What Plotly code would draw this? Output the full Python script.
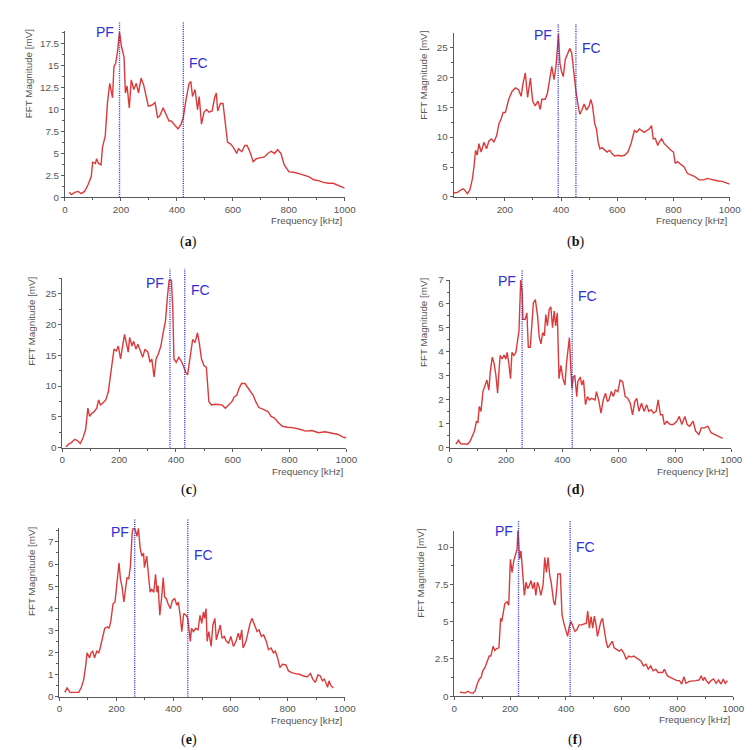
import plotly.graph_objects as go

# ---------------- data ----------------
freq_a = [15, 23, 35, 47, 58, 70, 82, 88, 94, 99, 109, 113, 120, 129, 134, 144, 152, 160, 170, 175, 181, 187, 195, 202, 211, 216, 222, 230, 237, 246, 255, 263, 272, 281, 289, 298, 310, 322, 331, 339, 351, 363, 372, 380, 392, 404, 415, 423, 433, 444, 450, 456, 465, 474, 480, 488, 497, 506, 515, 526, 535, 541, 546, 556, 565, 573, 581, 591, 602, 614, 620, 632, 643, 651, 661, 673, 684, 696, 713, 725, 737, 749, 760, 772, 784, 801, 819, 836, 854, 871, 889, 906, 924, 942, 959, 977, 994, 1000]
mag_a = [0.56, 0.3, 0.56, 0.67, 0.41, 0.67, 1.4, 2.0, 2.36, 4.0, 3.86, 4.4, 3.86, 3.7, 5.7, 7.0, 10.8, 13.0, 11.35, 14.9, 15.3, 16.4, 18.85, 17.2, 16.0, 11.9, 12.7, 10.2, 13.4, 12.3, 13.0, 11.9, 13.6, 12.85, 11.7, 10.4, 10.5, 10.8, 9.1, 9.3, 10.2, 9.3, 8.7, 8.7, 8.2, 7.8, 8.35, 9.1, 11.2, 13.0, 13.2, 11.5, 12.3, 10.0, 11.5, 8.35, 9.7, 10.0, 9.7, 9.85, 11.35, 11.9, 9.85, 10.7, 10.7, 8.55, 6.3, 6.1, 5.7, 5.0, 5.55, 5.2, 5.9, 5.9, 5.2, 4.05, 4.4, 4.5, 4.6, 5.0, 5.25, 5.0, 5.45, 5.0, 3.7, 2.9, 2.85, 2.7, 2.55, 2.36, 2.0, 1.9, 1.7, 1.6, 1.6, 1.35, 1.1, 1.05]

freq_b = [18, 32, 44, 53, 61, 67, 76, 85, 91, 96, 102, 108, 116, 126, 135, 144, 153, 161, 171, 179, 187, 194, 202, 214, 226, 238, 249, 258, 265, 273, 281, 291, 299, 308, 318, 326, 332, 344, 352, 361, 367, 375, 382, 391, 396, 402, 408, 415, 422, 431, 438, 446, 453, 461, 467, 475, 482, 491, 500, 506, 512, 520, 526, 532, 538, 547, 555, 564, 573, 582, 591, 602, 614, 626, 638, 649, 661, 669, 679, 688, 696, 705, 714, 722, 728, 735, 744, 749, 758, 767, 779, 791, 800, 806, 814, 826, 838, 849, 861, 876, 891, 908, 920, 938, 955, 973, 985, 996, 1000]
mag_b = [0.66, 0.77, 1.2, 1.37, 0.93, 0.55, 1.2, 3.1, 5.3, 7.8, 7.0, 8.9, 7.5, 9.15, 8.05, 9.4, 9.7, 9.15, 10.25, 12.2, 13.0, 14.1, 14.1, 16.3, 17.65, 18.2, 17.9, 16.8, 19.0, 20.7, 16.6, 19.85, 16.0, 15.2, 16.0, 14.6, 16.3, 16.3, 17.4, 19.85, 21.8, 19.6, 21.8, 27.2, 22.3, 20.9, 20.1, 22.9, 23.7, 24.8, 24.0, 20.4, 17.65, 15.2, 13.8, 14.6, 15.5, 14.5, 15.2, 16.3, 15.2, 12.2, 11.35, 9.15, 8.05, 8.2, 7.8, 7.5, 7.8, 7.2, 6.85, 6.96, 6.85, 6.96, 7.5, 8.9, 11.1, 10.8, 11.35, 11.1, 10.8, 11.1, 11.35, 11.9, 9.7, 9.8, 8.6, 9.15, 9.7, 8.9, 8.3, 7.8, 7.5, 5.6, 5.9, 5.4, 5.0, 3.95, 3.7, 3.4, 2.85, 2.85, 3.1, 2.85, 2.7, 2.6, 2.45, 2.3, 2.14]

freq_c = [13, 21, 32, 44, 55, 63, 73, 82, 90, 96, 105, 113, 121, 128, 134, 142, 153, 162, 168, 174, 182, 190, 197, 205, 211, 219, 225, 232, 237, 245, 251, 259, 266, 274, 283, 291, 301, 309, 315, 323, 330, 338, 347, 355, 363, 370, 376, 384, 389, 393, 401, 410, 418, 426, 434, 441, 449, 459, 467, 476, 482, 490, 499, 507, 516, 525, 539, 551, 562, 574, 585, 597, 606, 614, 622, 631, 643, 654, 664, 672, 681, 692, 706, 724, 735, 747, 762, 775, 793, 816, 839, 856, 879, 902, 925, 948, 971, 988, 1000]
mag_c = [0.1, 0.53, 0.8, 1.33, 1.07, 0.64, 1.6, 2.93, 6.4, 5.06, 5.6, 5.86, 6.4, 7.73, 6.93, 7.2, 7.73, 9.06, 11.2, 13.6, 16.0, 15.7, 16.5, 14.4, 16.5, 18.4, 17.05, 15.5, 17.9, 16.5, 17.3, 16.0, 16.8, 15.7, 14.66, 16.0, 15.5, 13.86, 14.4, 11.46, 14.4, 15.2, 16.5, 18.66, 20.5, 24.5, 27.2, 27.2, 22.4, 14.4, 13.86, 14.66, 14.1, 13.3, 12.26, 11.8, 14.4, 17.6, 17.05, 18.66, 17.05, 14.4, 13.3, 13.06, 7.46, 6.93, 7.04, 6.93, 6.93, 6.4, 6.93, 7.46, 8.26, 8.5, 9.6, 10.4, 10.4, 9.6, 9.06, 8.5, 7.46, 6.5, 6.24, 5.86, 5.06, 4.8, 4.0, 3.46, 3.3, 3.2, 2.93, 2.67, 2.77, 2.4, 2.56, 2.4, 2.13, 1.7, 1.6]

freq_d = [22, 31, 39, 51, 63, 72, 80, 88, 95, 100, 105, 111, 118, 127, 132, 139, 144, 151, 158, 164, 170, 174, 179, 186, 193, 199, 204, 210, 216, 221, 228, 235, 239, 246, 252, 257, 260, 268, 274, 279, 286, 291, 297, 304, 312, 318, 324, 330, 336, 341, 347, 353, 359, 365, 371, 376, 382, 388, 395, 402, 409, 415, 420, 425, 430, 434, 439, 444, 451, 455, 463, 469, 475, 482, 489, 496, 504, 516, 521, 530, 537, 545, 553, 560, 565, 574, 581, 588, 597, 605, 614, 623, 632, 641, 649, 657, 664, 672, 681, 690, 699, 707, 715, 724, 733, 740, 748, 756, 762, 771, 783, 794, 806, 815, 824, 835, 843, 852, 864, 873, 885, 893, 905, 916, 928, 940, 951, 963, 969]
mag_d = [0.14, 0.3, 0.16, 0.14, 0.14, 0.25, 0.48, 0.69, 1.1, 1.03, 1.72, 1.51, 2.34, 2.61, 2.82, 2.4, 3.16, 3.78, 3.5, 3.02, 2.27, 3.02, 3.85, 3.7, 3.87, 3.7, 3.98, 3.5, 2.88, 3.98, 3.85, 3.98, 4.26, 4.88, 7.0, 6.52, 5.36, 5.36, 5.63, 4.19, 4.19, 5.08, 6.04, 6.18, 5.49, 4.6, 4.33, 4.8, 4.67, 5.56, 5.08, 5.77, 5.88, 5.01, 5.7, 5.08, 5.63, 2.88, 3.43, 2.88, 2.61, 3.57, 3.98, 4.6, 3.3, 2.47, 2.95, 3.02, 2.13, 2.75, 2.95, 2.61, 2.82, 1.79, 2.13, 1.99, 2.06, 1.99, 2.34, 1.92, 1.44, 1.99, 2.27, 1.92, 1.99, 2.34, 2.13, 2.4, 2.34, 2.82, 2.75, 2.13, 2.06, 1.85, 1.37, 1.92, 2.06, 1.51, 1.85, 1.51, 1.79, 1.51, 1.58, 1.44, 1.51, 1.99, 1.37, 1.37, 0.96, 1.1, 0.96, 0.96, 1.1, 1.3, 0.96, 1.3, 0.96, 0.89, 1.1, 0.69, 0.55, 0.82, 0.82, 0.89, 0.62, 0.55, 0.48, 0.41, 0.38]

freq_e = [19, 27, 37, 48, 60, 68, 77, 85, 92, 97, 106, 111, 117, 123, 131, 138, 143, 151, 159, 169, 174, 180, 188, 195, 201, 209, 214, 220, 226, 232, 237, 243, 249, 255, 260, 266, 272, 277, 283, 289, 295, 298, 306, 312, 318, 323, 331, 337, 342, 346, 352, 358, 364, 369, 375, 381, 389, 396, 404, 412, 417, 424, 429, 436, 444, 450, 455, 459, 463, 470, 478, 486, 493, 499, 505, 509, 514, 518, 524, 532, 538, 545, 550, 557, 564, 570, 578, 585, 593, 601, 610, 619, 627, 633, 639, 644, 654, 662, 667, 675, 685, 693, 700, 708, 716, 725, 733, 742, 750, 757, 765, 773, 782, 794, 803, 814, 828, 842, 854, 868, 880, 888, 897, 906, 914, 922, 929, 935, 940, 945, 952, 960]
mag_e = [0.19, 0.39, 0.19, 0.19, 0.19, 0.19, 0.42, 0.74, 1.38, 1.98, 1.75, 1.98, 2.05, 1.75, 2.05, 1.98, 2.2, 2.64, 3.09, 3.16, 3.09, 3.39, 4.2, 4.28, 5.02, 6.06, 5.32, 4.95, 4.28, 4.95, 5.39, 5.32, 5.91, 7.4, 7.7, 7.55, 7.25, 7.62, 6.73, 6.36, 6.5, 5.84, 6.36, 5.54, 4.72, 4.87, 4.72, 5.54, 4.72, 5.02, 3.68, 4.43, 5.39, 4.5, 4.43, 4.2, 3.98, 4.35, 4.43, 4.13, 4.28, 3.61, 2.94, 3.76, 3.68, 3.54, 3.09, 2.5, 3.09, 2.94, 3.09, 3.02, 3.68, 3.31, 3.83, 3.54, 3.98, 2.5, 2.94, 2.27, 3.24, 3.54, 2.57, 2.94, 3.24, 2.64, 2.72, 2.5, 2.42, 2.72, 2.27, 2.5, 2.87, 2.57, 3.02, 2.2, 2.5, 2.94, 3.24, 3.54, 3.24, 2.94, 3.02, 2.72, 2.79, 2.5, 2.12, 2.2, 1.98, 2.05, 1.75, 1.31, 1.46, 1.43, 1.16, 1.08, 1.04, 1.01, 0.94, 0.89, 1.04, 0.79, 0.64, 0.98, 0.94, 0.71, 0.79, 0.56, 0.42, 0.71, 0.49, 0.39]

freq_f = [20, 32, 40, 49, 58, 67, 75, 82, 90, 96, 102, 110, 119, 125, 131, 139, 145, 152, 160, 166, 170, 175, 181, 189, 195, 201, 207, 213, 219, 225, 228, 234, 239, 244, 251, 257, 263, 269, 275, 281, 287, 292, 298, 304, 310, 318, 324, 330, 336, 342, 347, 356, 361, 367, 371, 380, 386, 394, 400, 406, 412, 418, 423, 432, 439, 447, 456, 464, 473, 478, 484, 490, 496, 502, 508, 513, 519, 525, 531, 538, 544, 550, 558, 566, 573, 581, 591, 599, 607, 616, 625, 634, 643, 651, 660, 669, 678, 687, 695, 704, 712, 722, 730, 739, 747, 753, 763, 774, 786, 798, 807, 815, 823, 830, 842, 854, 865, 877, 885, 891, 897, 903, 912, 920, 929, 938, 947, 956, 964, 971, 979]
mag_f = [0.26, 0.26, 0.22, 0.33, 0.22, 0.2, 0.37, 0.81, 1.15, 1.26, 1.7, 1.92, 2.36, 2.69, 2.69, 3.35, 3.06, 3.19, 3.24, 5.22, 5.0, 5.55, 6.21, 6.32, 6.1, 9.18, 8.3, 9.07, 9.4, 9.85, 11.17, 9.18, 9.74, 8.52, 6.76, 7.64, 7.2, 7.42, 7.75, 7.2, 7.64, 6.76, 7.64, 7.31, 6.76, 7.42, 9.3, 8.3, 9.3, 8.08, 7.64, 6.32, 6.1, 7.2, 8.19, 8.19, 5.44, 4.78, 4.34, 4.01, 4.67, 5.0, 4.78, 4.34, 4.45, 4.78, 4.78, 4.82, 4.89, 5.7, 4.56, 5.33, 4.56, 5.37, 4.78, 4.01, 4.56, 5.0, 5.22, 4.34, 3.68, 3.24, 3.46, 3.68, 3.24, 3.13, 3.02, 3.13, 2.91, 2.47, 2.69, 2.62, 2.69, 2.58, 2.47, 2.36, 2.03, 2.14, 1.81, 2.03, 1.7, 1.81, 1.59, 1.59, 1.59, 1.81, 1.37, 1.26, 1.15, 1.04, 1.04, 0.81, 1.3, 0.86, 0.99, 1.04, 1.04, 1.08, 1.37, 1.04, 1.26, 1.04, 0.86, 1.04, 1.15, 0.86, 1.08, 0.81, 1.15, 0.86, 1.04]

pf_khz = [195, 390, 379, 257, 264, 230]
fc_khz = [423, 453, 431, 435, 450, 415]
panel_labels = ["a", "b", "c", "d", "e", "f"]
x_title = "Frequency [kHz]"
y_title = "FFT Magnitude [mV]"
marker_names = ["PF", "FC"]

freqs = [freq_a, freq_b, freq_c, freq_d, freq_e, freq_f]
mags = [mag_a, mag_b, mag_c, mag_d, mag_e, mag_f]

# ---------------- layout geometry (pixels) ----------------
W, H = 755, 750
panels = [
    dict(xpx=(55, 340), ypx=(186, 17), xr=(0, 1000), yr=(0, 19), dt=2.5, ytshift=-37, pfy=18.85, fcy=15.3),
    dict(xpx=(451, 732.3), ypx=(185.7, 19.7), xr=(18, 1000), yr=(0, 27.3), dt=5, ytshift=-31, pfy=27.0, fcy=24.8),
    dict(xpx=(52.3, 341.7), ypx=(440, 268.3), xr=(0, 1000), yr=(0, 27.5), dt=5, ytshift=-31, pfy=26.8, fcy=25.6),
    dict(xpx=(447, 734), ypx=(440, 270), xr=(0, 1000), yr=(0, 7.0), dt=1, ytshift=-25.5, pfy=6.98, fcy=6.32),
    dict(xpx=(49.3, 340), ypx=(692.7, 521.7), xr=(0, 1000), yr=(0, 7.63), dt=1, ytshift=-28.5, pfy=7.47, fcy=6.43),
    dict(xpx=(451.7, 736), ypx=(692.3, 524.3), xr=(0, 1000), yr=(0, 11.1), dt=2.5, ytshift=-33.5, pfy=11.1, fcy=10.0),
]
caption_px = [(181, 231), (575, 231), (181, 483), (575, 483), (181, 737), (575, 737)]

RED = "#dc3a3a"
BLUE = "#2f2fd8"
AXC = "#5a5a5a"
TXT = "#555555"
FONT = "Liberation Sans, Arial, sans-serif"

fig = go.Figure()
layout = dict(
    width=W, height=H, margin=dict(l=0, r=0, t=0, b=0),
    paper_bgcolor="white", plot_bgcolor="white", showlegend=False,
    font=dict(family=FONT, size=9.5, color=TXT),
)
shapes = []
annotations = []

for i, p in enumerate(panels):
    n = "" if i == 0 else str(i + 1)
    xa, ya = "x" + n, "y" + n
    fig.add_trace(go.Scatter(
        x=freqs[i], y=mags[i], mode="lines", xaxis=xa, yaxis=ya,
        line=dict(color=RED, width=1.4), hoverinfo="skip",
    ))
    xdom = [p["xpx"][0] / W, p["xpx"][1] / W]
    ydom = [1 - p["ypx"][0] / H, 1 - p["ypx"][1] / H]
    layout["xaxis" + n] = dict(
        domain=xdom, anchor=ya, range=list(p["xr"]), tick0=0, dtick=200,
        showgrid=False, zeroline=False, showline=True, linecolor=AXC, linewidth=1,
        ticks="outside", ticklen=3, tickcolor=AXC, tickwidth=1,
        minor=dict(ticks="outside", ticklen=2, dtick=100, tick0=0, tickcolor=AXC),
        tickfont=dict(family=FONT, size=9.8, color=TXT), fixedrange=True,
    )
    layout["yaxis" + n] = dict(
        domain=ydom, anchor=xa, range=list(p["yr"]), tick0=0, dtick=p["dt"],
        showgrid=False, zeroline=False, showline=True, linecolor=AXC, linewidth=1,
        ticks="outside", ticklen=3, tickcolor=AXC, tickwidth=1,
        minor=dict(ticks="outside", ticklen=2, dtick=p["dt"] / 2, tick0=0, tickcolor=AXC),
        tickfont=dict(family=FONT, size=9.8, color=TXT), fixedrange=True,
    )
    for xv in (pf_khz[i], fc_khz[i]):
        shapes.append(dict(
            type="line", xref=xa, yref=ya + " domain", x0=xv, x1=xv, y0=0, y1=1.057,
            line=dict(color=BLUE, width=1.4, dash="1px,1.2px"), layer="above",
        ))
    annotations.append(dict(
        x=pf_khz[i], y=p["pfy"], xref=xa, yref=ya, text=marker_names[0],
        showarrow=False, xanchor="right", yanchor="middle", xshift=-4,
        font=dict(family=FONT, size=14, color=BLUE),
    ))
    annotations.append(dict(
        x=fc_khz[i], y=p["fcy"], xref=xa, yref=ya, text=marker_names[1],
        showarrow=False, xanchor="left", yanchor="middle", xshift=4,
        font=dict(family=FONT, size=14, color=BLUE),
    ))
    annotations.append(dict(
        x=1, y=0, xref=xa + " domain", yref=ya + " domain", text=x_title,
        showarrow=False, xanchor="right", yanchor="middle", yshift=-23.5,
        font=dict(family=FONT, size=9.8, color=TXT),
    ))
    annotations.append(dict(
        x=0, y=0.745, xref=xa + " domain", yref=ya + " domain", text=y_title,
        showarrow=False, xanchor="center", yanchor="middle", xshift=p["ytshift"],
        textangle=-90, font=dict(family=FONT, size=9.8, color=TXT),
    ))
    cx, cy = caption_px[i]
    annotations.append(dict(
        x=cx / W, y=1 - cy / H, xref="paper", yref="paper",
        text="(<b>" + panel_labels[i] + "</b>)", showarrow=False,
        xanchor="center", yanchor="middle",
        font=dict(family="Liberation Serif, Times New Roman, serif", size=14, color="#111111"),
    ))

layout["shapes"] = shapes
layout["annotations"] = annotations
fig.update_layout(**layout)
fig.write_html("out.html")
